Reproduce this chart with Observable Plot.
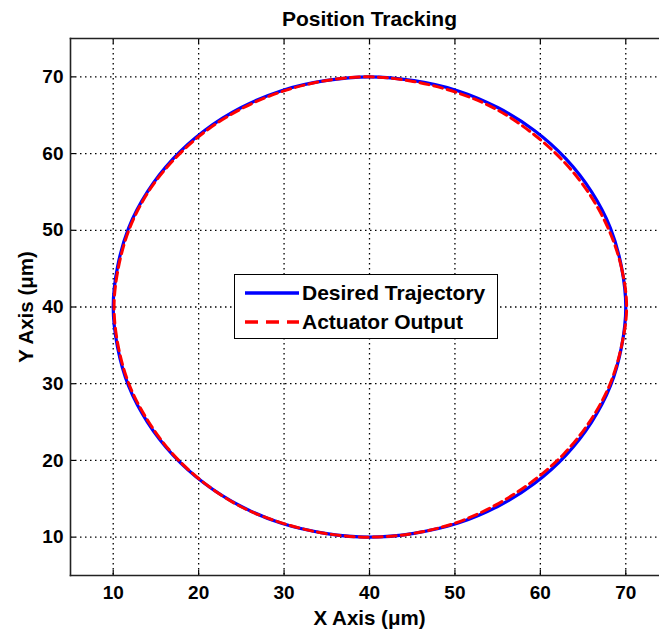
<!DOCTYPE html>
<html><head><meta charset="utf-8">
<script src="https://cdn.jsdelivr.net/npm/d3@7"></script>
<script src="https://cdn.jsdelivr.net/npm/@observablehq/plot@0.6"></script>
<style>
body{margin:0;overflow:hidden;background:#fff;font-family:"Liberation Sans",Arial,sans-serif}
#wrap{position:relative;width:659px;height:631px;overflow:hidden}
#wrap > svg{max-width:none !important}
#legend{position:absolute;left:234px;top:274px;width:262px;height:63px;border:1.3px solid #000;background:#fff;font-weight:bold;font-size:21px;color:#000}
#legend .row{position:absolute;left:10px;display:flex;align-items:center;height:24px;white-space:nowrap}
#legend svg{margin-right:3px}
</style></head>
<body><div id="wrap"></div>
<script>
const title = "Position Tracking";
const xLabel = "X Axis (μm)";
const yLabel = "Y Axis (μm)";
const xTicks = [10, 20, 30, 40, 50, 60, 70];
const yTicks = [10, 20, 30, 40, 50, 60, 70];
const seriesNames = ["Desired Trajectory", "Actuator Output"];
const seriesColors = ["#0000ff", "#ff0000"];

// Desired trajectory points
const desiredX = [70, 69.5, 68.2, 66.0, 63.0, 59.3, 55.0, 50.3, 45.2, 40.0, 34.8, 29.7, 25.0, 20.7, 17.0, 14.0, 11.8, 10.5, 10.0, 10.5, 11.8, 14.0, 17.0, 20.7, 25.0, 29.7, 34.8, 40.0, 45.2, 50.3, 55.0, 59.3, 63.0, 66.0, 68.2, 69.5];
const desiredY = [40, 45.2, 50.3, 55.0, 59.3, 63.0, 66.0, 68.2, 69.5, 70.0, 69.5, 68.2, 66.0, 63.0, 59.3, 55.0, 50.3, 45.2, 40.0, 34.8, 29.7, 25.0, 20.7, 17.0, 14.0, 11.8, 10.5, 10.0, 10.5, 11.8, 14.0, 17.0, 20.7, 25.0, 29.7, 34.8];
// Actuator output points
const actualX = [70.1, 69.5, 68.0, 65.7, 62.7, 59.0, 54.8, 50.1, 45.1, 40.0, 34.8, 29.8, 25.1, 20.8, 17.1, 14.1, 11.9, 10.6, 10.1, 10.6, 11.9, 14.1, 17.0, 20.6, 24.9, 29.6, 34.7, 40.0, 45.2, 50.2, 54.8, 59.0, 62.8, 65.8, 68.1, 69.5];
const actualY = [40, 45.1, 50.1, 54.8, 59.0, 62.7, 65.8, 68.0, 69.4, 70.0, 69.5, 68.1, 65.9, 62.9, 59.2, 55.0, 50.2, 45.1, 40.0, 34.8, 29.8, 25.1, 20.8, 17.1, 14.0, 11.9, 10.5, 10.0, 10.5, 11.9, 14.2, 17.2, 20.9, 25.1, 29.8, 34.9];

const desired = desiredX.map((x, i) => ({x, y: desiredY[i]}));
const actual = actualX.map((x, i) => ({x, y: actualY[i]}));

const font = '"Liberation Sans", Arial, sans-serif';
const chart = Plot.plot({
  width: 680, height: 631,
  marginTop: 38, marginBottom: 56, marginLeft: 70, marginRight: 12,
  x: {domain: [5, 75]},
  y: {domain: [5, 75]},
  style: {fontFamily: font, fontWeight: "bold", fontSize: "19px", color: "#000", background: "#fff", maxWidth: "none"},
  marks: [
    Plot.gridX(xTicks, {stroke: "#000", strokeOpacity: 1, strokeWidth: 1.3, strokeDasharray: "1.5,3.5"}),
    Plot.gridY(yTicks, {stroke: "#000", strokeOpacity: 1, strokeWidth: 1.3, strokeDasharray: "1.5,3.5"}),
    Plot.ruleX(xTicks, {y1: 5, y2: 5.7, stroke: "#000", strokeWidth: 1.2}),
    Plot.ruleX(xTicks, {y1: 75, y2: 74.3, stroke: "#000", strokeWidth: 1.2}),
    Plot.ruleY(yTicks, {x1: 5, x2: 5.6, stroke: "#000", strokeWidth: 1.2}),
    Plot.line(desired, {x: "x", y: "y", curve: "catmull-rom-closed", stroke: seriesColors[0], strokeWidth: 3.2}),
    Plot.line(actual, {x: "x", y: "y", curve: "catmull-rom-closed", stroke: seriesColors[1], strokeWidth: 3, strokeDasharray: "9,5"}),
    Plot.frame({anchor: "left", stroke: "#222", strokeWidth: 1.6}),
    Plot.frame({anchor: "top", stroke: "#222", strokeWidth: 1.6}),
    Plot.frame({anchor: "bottom", stroke: "#222", strokeWidth: 1.6}),
    Plot.axisX(xTicks, {tickSize: 0, tickPadding: 10, fontSize: 19, fontWeight: "bold", label: null}),
    Plot.axisY(yTicks, {tickSize: 0, tickPadding: 7, fontSize: 19, fontWeight: "bold", label: null}),
    Plot.axisX({tickSize: 0, ticks: [], label: xLabel, labelAnchor: "center", labelArrow: "none", labelOffset: 49, fontSize: 20.5, fontWeight: "bold"}),
    Plot.axisY({tickSize: 0, ticks: [], label: yLabel, labelAnchor: "center", labelArrow: "none", labelOffset: 52, fontSize: 20.5, fontWeight: "bold"}),
    Plot.text([title], {frameAnchor: "top", dy: -27, fontSize: 21, fontWeight: "bold", text: d => d})
  ]
});
const wrap = document.getElementById("wrap");
wrap.appendChild(chart);

const legend = document.createElement("div");
legend.id = "legend";
const rows = [
  {top: 6, dash: null},
  {top: 35, dash: "13,8"}
];
rows.forEach((r, i) => {
  const row = document.createElement("div");
  row.className = "row";
  row.style.top = r.top + "px";
  const svgNS = "http://www.w3.org/2000/svg";
  const s = document.createElementNS(svgNS, "svg");
  s.setAttribute("width", "54"); s.setAttribute("height", "20");
  const l = document.createElementNS(svgNS, "line");
  l.setAttribute("x1", "0"); l.setAttribute("x2", "54");
  l.setAttribute("y1", "10"); l.setAttribute("y2", "10");
  l.setAttribute("stroke", seriesColors[i]); l.setAttribute("stroke-width", "3.5");
  if (r.dash) l.setAttribute("stroke-dasharray", r.dash);
  s.appendChild(l);
  row.appendChild(s);
  const t = document.createElement("span");
  t.textContent = seriesNames[i];
  row.appendChild(t);
  legend.appendChild(row);
});
wrap.appendChild(legend);
</script>
</body></html>
